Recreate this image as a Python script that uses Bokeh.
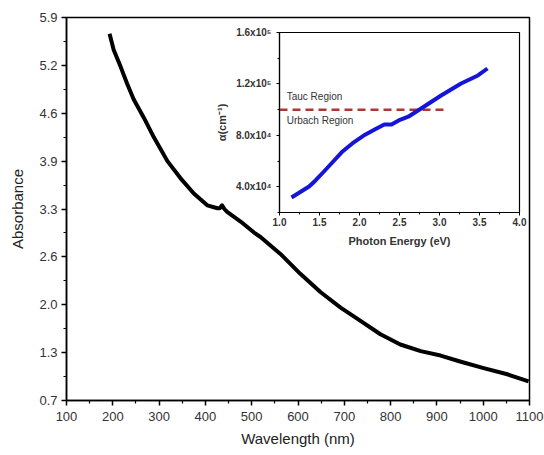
from bokeh.plotting import figure
from bokeh.models import Range1d, FixedTicker, GridBox
from bokeh.core.properties import value
from bokeh.embed import file_html
from bokeh.resources import INLINE

# ---- main spectrum ----
wavelength = [193, 202, 217, 231, 245, 267, 289, 318, 346, 375, 404, 426, 431, 436,
              441, 447, 476, 505, 519, 562, 605, 649, 692, 735, 778, 821, 865, 908,
              950, 1001, 1050, 1098]
absorbance = [5.68, 5.46, 5.23, 5.00, 4.79, 4.54, 4.27, 3.95, 3.72, 3.51, 3.35, 3.31,
              3.31, 3.35, 3.30, 3.26, 3.13, 2.98, 2.92, 2.69, 2.42, 2.17, 1.96, 1.78,
              1.60, 1.46, 1.37, 1.31, 1.23, 1.14, 1.06, 0.96]

x_ticks = [100, 200, 300, 400, 500, 600, 700, 800, 900, 1000, 1100]
x_minor = [150, 250, 350, 450, 550, 650, 750, 850, 950, 1050]
y_ticks = [0.7, 1.35, 2.0, 2.65, 3.3, 3.95, 4.6, 5.25, 5.9]
y_labels = ["0.7", "1.3", "2.0", "2.6", "3.3", "3.9", "4.6", "5.2", "5.9"]
y_minor = [1.025, 1.675, 2.325, 2.975, 3.625, 4.275, 4.925, 5.575]

# ---- inset: absorption coefficient ----
energy = [1.15, 1.29, 1.37, 1.45, 1.55, 1.66, 1.78, 1.91, 2.07, 2.19, 2.31, 2.40,
          2.49, 2.61, 2.77, 3.02, 3.27, 3.48, 3.60]
alpha = [31700, 37100, 40200, 44900, 51500, 58900, 67000, 73700, 80500, 84500, 88400,
         88400, 91600, 94500, 100900, 111000, 120300, 126600, 132000]
boundary_x = [1.0, 3.08]
boundary_y = [100000, 100000]
region_labels = ["Tauc Region", "Urbach Region"]
region_x = [1.09, 1.09]
region_y = [110200, 91600]

ix_ticks = [1.0, 1.5, 2.0, 2.5, 3.0, 3.5, 4.0]
ix_labels = ["1.0", "1.5", "2.0", "2.5", "3.0", "3.5", "4.0"]
ix_minor = [1.25, 1.75, 2.25, 2.75, 3.25, 3.75]
iy_ticks = [40000, 80000, 120000, 160000]
iy_labels = ["4.0x10\u2074", "8.0x10\u2074", "1.2x10\u2075", "1.6x10\u2075"]
iy_minor = [20000, 60000, 100000, 140000]

FONT = "Liberation Sans"

p = figure(width=544, height=455, x_range=Range1d(100, 1100), y_range=Range1d(0.7, 5.9),
           output_backend="svg", toolbar_location=None,
           min_border_left=66, min_border_top=17, min_border_right=15, min_border_bottom=55)
p.grid.visible = False
p.outline_line_color = "black"
p.outline_line_width = 1.5
p.line(wavelength, absorbance, line_width=4, color="black", line_join="round")

p.xaxis.ticker = FixedTicker(ticks=x_ticks, minor_ticks=x_minor)
p.yaxis.ticker = FixedTicker(ticks=y_ticks, minor_ticks=y_minor)
p.yaxis.major_label_overrides = {t: l for t, l in zip(y_ticks, y_labels)}
p.xaxis.axis_label = "Wavelength (nm)"
p.yaxis.axis_label = "Absorbance"
for ax in (p.xaxis, p.yaxis):
    ax.axis_line_width = 1.5
    ax.axis_line_color = "black"
    ax.major_tick_in = 0
    ax.major_tick_out = 5
    ax.minor_tick_in = 0
    ax.minor_tick_out = 3
    ax.major_tick_line_width = 1.5
    ax.minor_tick_line_width = 1.2
    ax.major_tick_line_color = "black"
    ax.minor_tick_line_color = "black"
    ax.major_label_text_font = FONT
    ax.major_label_text_font_size = "13px"
    ax.major_label_text_color = "#333333"
    ax.axis_label_text_font = FONT
    ax.axis_label_text_font_size = "15px"
    ax.axis_label_text_font_style = "normal"
    ax.axis_label_text_color = "#222222"
p.xaxis.major_label_standoff = 6
p.xaxis.axis_label_standoff = 6
p.yaxis.major_label_standoff = 4
p.yaxis.axis_label_standoff = 10

q = figure(width=317, height=228, x_range=Range1d(1.0, 4.0), y_range=Range1d(20000, 160000),
           output_backend="svg", toolbar_location=None,
           min_border_left=65, min_border_top=8, min_border_right=10, min_border_bottom=40)
q.grid.visible = False
q.background_fill_alpha = 0
q.border_fill_alpha = 0
q.outline_line_color = "black"
q.outline_line_width = 1.2
q.line(boundary_x, boundary_y, line_width=2.5, color="#b03535", line_dash="8 5")
q.line(energy, alpha, line_width=4, color="#1515d8", line_join="round")
q.text(x=region_x, y=region_y, text=region_labels, text_font=value(FONT),
       text_font_size="10px", text_color="#333333", text_baseline="middle")

q.xaxis.ticker = FixedTicker(ticks=ix_ticks, minor_ticks=ix_minor)
q.yaxis.ticker = FixedTicker(ticks=iy_ticks, minor_ticks=iy_minor)
q.xaxis.major_label_overrides = {t: l for t, l in zip(ix_ticks, ix_labels)}
q.yaxis.major_label_overrides = {t: l for t, l in zip(iy_ticks, iy_labels)}
q.xaxis.axis_label = "Photon Energy (eV)"
q.yaxis.axis_label = "\u03b1(cm\u207b\u00b9)"
for ax in (q.xaxis, q.yaxis):
    ax.axis_line_width = 1.2
    ax.axis_line_color = "black"
    ax.major_tick_in = 0
    ax.major_tick_out = 3
    ax.minor_tick_in = 0
    ax.minor_tick_out = 2
    ax.major_tick_line_color = "black"
    ax.minor_tick_line_color = "black"
    ax.major_label_text_font = FONT
    ax.major_label_text_font_size = "10px"
    ax.major_label_text_font_style = "bold"
    ax.major_label_text_color = "#333333"
    ax.axis_label_text_font = FONT
    ax.axis_label_text_font_size = "11px"
    ax.axis_label_text_font_style = "bold"
    ax.axis_label_text_color = "#333333"
q.xaxis.major_label_standoff = 2
q.xaxis.axis_label_standoff = 6
q.yaxis.major_label_standoff = 5
q.yaxis.axis_label_standoff = 5

grid = GridBox(children=[(p, 0, 0, 3, 3), (q, 1, 1, 1, 1)],
               rows=["24px", "228px", "203px"], cols=["212px", "317px", "15px"], spacing=0)

open("out.html", "w").write(file_html(grid, INLINE))
